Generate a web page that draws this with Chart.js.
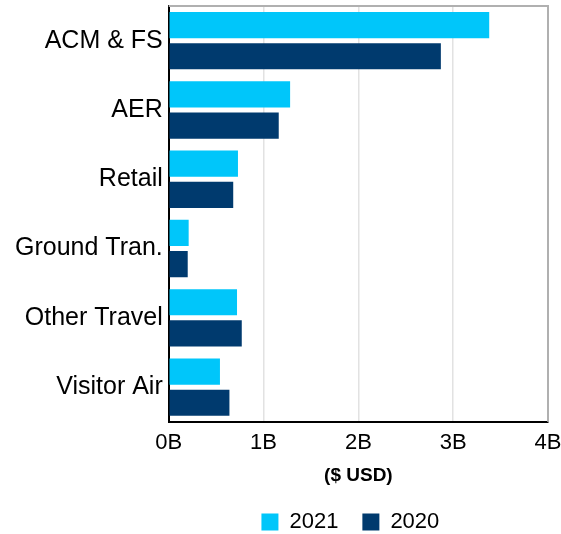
<!DOCTYPE html>
<html>
<head>
<meta charset="utf-8">
<script src="https://cdn.jsdelivr.net/npm/chart.js@4/dist/chart.umd.min.js"></script>
<style>
  html, body { margin: 0; padding: 0; background: #fff; }
  #wrap { width: 561px; height: 534px; }
</style>
</head>
<body>
<div id="wrap"><canvas id="myChart"></canvas></div>
<script>
const categories = ['ACM & FS', 'AER', 'Retail', 'Ground Tran.', 'Other Travel', 'Visitor Air'];
const values2021 = [3.38, 1.28, 0.73, 0.21, 0.72, 0.54];
const values2020 = [2.87, 1.16, 0.68, 0.20, 0.77, 0.64];
const xTicks = ['0B', '1B', '2B', '3B', '4B'];

const ctx = document.getElementById('myChart');

// grey frame on top and right of the plot, legend nudged a bit left
const frame = {
  id: 'frame',
  afterLayout(chart) {
    const a = chart.chartArea;
    chart.legend.left = a.left - 8;
    chart.legend.right = a.right - 8;
  },
  afterDraw(chart) {
    const a = chart.chartArea;
    const c = chart.ctx;
    c.save();
    c.strokeStyle = '#b0b0b0';
    c.lineWidth = 2;
    c.beginPath();
    c.moveTo(a.left, a.top);
    c.lineTo(a.right, a.top);
    c.lineTo(a.right, a.bottom);
    c.stroke();
    c.restore();
  }
};

new Chart(ctx, {
  type: 'bar',
  data: {
    labels: categories,
    datasets: [
      { label: '2021', data: values2021, backgroundColor: '#00c6fa' },
      { label: '2020', data: values2020, backgroundColor: '#003a6e' }
    ]
  },
  options: {
    indexAxis: 'y',
    responsive: true,
    maintainAspectRatio: false,
    animation: false,
    layout: { padding: { top: 6, right: 0, bottom: -9, left: 9 } },
    datasets: { bar: { categoryPercentage: 0.9, barPercentage: 0.84 } },
    scales: {
      x: {
        min: 0,
        max: 4,
        ticks: {
          stepSize: 1,
          color: '#000',
          font: { family: 'Liberation Sans', size: 22 },
          padding: 8,
          callback: (v, i) => xTicks[i]
        },
        grid: { color: '#e2e2e2', lineWidth: 1.5, drawTicks: false },
        border: { color: '#000', width: 2 },
        title: {
          display: true,
          text: '($ USD)',
          color: '#000',
          font: { family: 'Liberation Sans', size: 19, weight: 'bold' },
          padding: { top: 0, bottom: 0 }
        },
        afterFit: (s) => { s.paddingRight = 13; }
      },
      y: {
        ticks: {
          color: '#000',
          font: { family: 'Liberation Sans', size: 25 },
          padding: 6
        },
        grid: { display: false, drawTicks: false },
        border: { color: '#000', width: 2 },
        afterFit: (s) => { s.paddingTop = 0; s.paddingBottom = 0; }
      }
    },
    plugins: {
      legend: {
        position: 'bottom',
        fullSize: false,
        labels: {
          color: '#000',
          font: { family: 'Liberation Sans', size: 22 },
          boxWidth: 17,
          boxHeight: 17,
          padding: 24
        }
      },
      tooltip: { enabled: false }
    }
  },
  plugins: [frame]
});
</script>
</body>
</html>
